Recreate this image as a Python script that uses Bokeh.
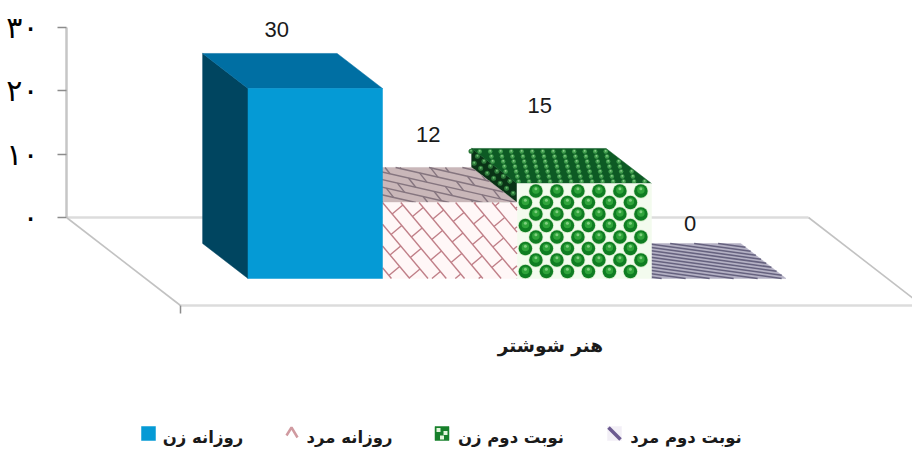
import math
from bokeh.plotting import figure
from bokeh.models import Range1d, FixedTicker
from bokeh.core.properties import value as V
from bokeh.embed import file_html
from bokeh.resources import INLINE

# ---------- data ----------
CATEGORY = "هنر شوشتر"
SERIES = ["روزانه زن", "روزانه مرد", "نوبت دوم زن", "نوبت دوم مرد"]
VALUES = [30, 12, 15, 0]
TICKS = [0, 10, 20, 30]
TICK_LABELS = ["۰", "۱۰", "۲۰", "۳۰"]

# ---------- layout (pixels in the page, converted through the scales) ----------
W, H = 912, 451
FRAME_L, FRAME_T = 66, 0
FRAME_R, FRAME_B = 912, 451
SLOT = 134.5          # width of a bar in px
PXV = 190 / 30        # px per value unit
ZERO_Y = 217          # value 0 on back wall
DEPTH_X, DEPTH_Y = 114, 88     # whole floor depth
BAR_F0, BAR_F1 = 0.295, 0.693  # bar depth span as a fraction of the floor
WALL_W = 742
BAR_LEFT = 102.5      # from wall, px, in back-plane coordinates


def dx(px):
    return (px - FRAME_L) / SLOT


def dy(py):
    return (ZERO_Y - py) / PXV


p = figure(width=W, height=H, output_backend="svg", toolbar_location=None,
           x_range=Range1d(dx(FRAME_L), dx(FRAME_R)), y_range=Range1d(dy(FRAME_B), dy(FRAME_T)),
           min_border_left=FRAME_L, min_border_right=0, min_border_top=0, min_border_bottom=0,
           x_axis_location=None, outline_line_color=None, background_fill_color="white")
p.grid.visible = False
ax = p.yaxis[0]
ax.bounds = (0, 30)
ax.ticker = FixedTicker(ticks=TICKS)
ax.major_label_overrides = {t: l for t, l in zip(TICKS, TICK_LABELS)}
ax.major_label_text_font = "DejaVu Sans"
ax.major_label_text_font_size = "30px"
ax.major_label_text_color = "black"
ax.major_label_standoff = 19
ax.major_tick_out = 9
ax.major_tick_in = 0
ax.minor_tick_line_color = None
ax.major_tick_line_color = "#8c8c8c"
ax.major_tick_line_width = 1.5
ax.axis_line_color = "#c6c6c6"
ax.axis_line_width = 2.5

# ---------- floor ----------
back_l = (dx(FRAME_L), 0.0)
back_r = (dx(FRAME_L + WALL_W), 0.0)
ddx, ddy = DEPTH_X / SLOT, -DEPTH_Y / PXV
p.line([back_l[0], back_r[0]], [0, 0], line_color="#dcdcdc", line_width=2.5)
p.line([back_l[0], back_l[0] + ddx], [0, ddy], line_color="#c2c2c2", line_width=1.6)
p.line([back_r[0], back_r[0] + ddx], [0, ddy], line_color="#c2c2c2", line_width=1.6)
p.line([back_l[0] + ddx, dx(FRAME_R)], [ddy, ddy], line_color="#dcdcdc", line_width=2.5)
p.line([back_l[0] + ddx] * 2, [ddy, ddy - 8 / PXV], line_color="#8c8c8c", line_width=1.5)


# ---------- faces ----------
def bar_geometry(i, val):
    x = BAR_LEFT / SLOT + i
    back = (x + BAR_F0 * ddx, BAR_F0 * ddy)
    front = (x + BAR_F1 * ddx, BAR_F1 * ddy)
    return back, front, val


def poly(pts, color, line=None):
    p.patch([q[0] for q in pts], [q[1] for q in pts], fill_color=color,
            line_color=line or color, line_width=0.5)


def clip(a, b, w, h):
    t0, t1 = 0.0, 1.0
    d = (b[0] - a[0], b[1] - a[1])
    for pp, q in ((-d[0], a[0]), (d[0], w - a[0]), (-d[1], a[1]), (d[1], h - a[1])):
        if pp == 0:
            if q < 0:
                return None
            continue
        r = q / pp
        if pp < 0:
            t0 = max(t0, r)
        else:
            t1 = min(t1, r)
    if t0 > t1:
        return None
    return ((a[0] + t0 * d[0], a[1] + t0 * d[1]), (a[0] + t1 * d[0], a[1] + t1 * d[1]))


def brick_lines(w, h, angle, T, S, vscale=1.0):
    """segments of a rotated brick weave, clipped to w x h (px on the face)"""
    ca, sa = math.cos(angle), math.sin(angle)
    R = int((w + h / vscale) / min(T, S)) + 4

    def rot(s, t):
        return (s * ca - t * sa, (s * sa + t * ca) * vscale)

    segs = []
    for k in range(-R, R):
        c = clip(rot(-3 * R * S, k * T), rot(3 * R * S, k * T), w, h)
        if c:
            segs.append(c)
        for m in range(-R, R):
            s = m * S + (S / 2 if k % 2 else 0)
            c = clip(rot(s, k * T), rot(s, (k + 1) * T), w, h)
            if c:
                segs.append(c)
    return segs


def draw_segs(segs, w, h, org, eu, ev, color, width):
    xs, ys = [], []
    for a, b in segs:
        xs.append([org[0] + a[0] / w * eu[0] + a[1] / h * ev[0], org[0] + b[0] / w * eu[0] + b[1] / h * ev[0]])
        ys.append([org[1] + a[0] / w * eu[1] + a[1] / h * ev[1], org[1] + b[0] / w * eu[1] + b[1] / h * ev[1]])
    p.multi_line(xs, ys, line_color=color, line_width=width)


def balls(w, h, cw, rh, org, eu, ev, sizes_colors, margin=0.0):
    xs, ys = [], []
    r = 0
    v = rh * 0.6
    while v < h:
        u = cw * 0.4 + (cw / 2 if r % 2 else 0) - cw
        while u < w - margin:
            if u >= -1:
                xs.append(org[0] + u / w * eu[0] + v / h * ev[0])
                ys.append(org[1] + u / w * eu[1] + v / h * ev[1])
            u += cw
        v += rh
        r += 1
    for sz, col, shift in sizes_colors:
        p.scatter(xs, [y + shift / PXV for y in ys], size=sz, fill_color=col, line_color=None)


def faces(i, val):
    back, front, _ = bar_geometry(i, val)
    return back, front, (1.0, 0.0), (front[0] - back[0], front[1] - back[1])


# bar 3 (purple) – only a floor sheet because its value is 0
back, front, eu, ed = faces(3, VALUES[3])
tl = (back[0], back[1] + VALUES[3])
poly([tl, (tl[0] + 1, tl[1]), (tl[0] + 1 + ed[0], tl[1] + ed[1]), (tl[0] + ed[0], tl[1] + ed[1])], "#b4b1c4")
wd, hd = SLOT, -ed[1] * PXV
draw_segs(
    [s for k in range(-16, 40)
     for s in [clip((-20, k * 4.0 - 10), (160, k * 4.0 + 20), wd, hd)] if s],
    wd, hd, tl, eu, ed, "#66627f", 1.6)

# bar 2 (green)
back, front, eu, ed = faces(2, VALUES[2])
top_b = (back[0], back[1] + VALUES[2])
top_f = (front[0], front[1] + VALUES[2])
fb = front
poly([back, front, top_f, top_b], "#0a3316")
balls(-ed[1] * PXV * 1.3, VALUES[2] * PXV, 6.5, 9.5, back, ed, (0, VALUES[2]),
      [(5, "#2d7a3a", 0.5), (2, "#6fbf72", 1.0)], margin=3)
poly([top_b, (top_b[0] + 1, top_b[1]), (top_f[0] + 1, top_f[1]), top_f], "#0d5a24")
balls(SLOT, -ed[1] * PXV, 10.5, 5, top_b, eu, ed,
      [(4.5, "#3f9c4c", 0), (1.8, "#8fd08f", 0.6)], margin=4)
poly([fb, (fb[0] + 1, fb[1]), (fb[0] + 1, fb[1] + VALUES[2]), (fb[0], fb[1] + VALUES[2])], "#f3fbee")
balls(SLOT, VALUES[2] * PXV, 21, 11.5, fb, eu, (0, VALUES[2]),
      [(15, "#d3ecc9", 0), (13.5, "#0f7d22", 0), (7.5, "#2fa43a", 1.2), (3, "#7fd07f", 2.4)], margin=6)

# bar 1 (pink)
back, front, eu, ed = faces(1, VALUES[1])
top_b = (back[0], back[1] + VALUES[1])
top_f = (front[0], front[1] + VALUES[1])
poly([top_b, (top_b[0] + 1, top_b[1]), (top_f[0] + 1, top_f[1]), top_f], "#c9b7b9")
hd = -ed[1] * PXV
draw_segs(brick_lines(SLOT, hd, math.radians(-22), 12.5, 28, 0.8), SLOT, hd, top_f, eu, (-ed[0], -ed[1]), "#85757f", 1.4)
ffh = VALUES[1] * PXV
poly([front, (front[0] + 1, front[1]), (top_f[0] + 1, top_f[1]), top_f], "#fff7f7")
draw_segs(brick_lines(SLOT, ffh, math.radians(50), 14, 30), SLOT, ffh, top_f, eu, (0, -VALUES[1]), "#c07f88", 1.4)

# bar 0 (blue)
back, front, eu, ed = faces(0, VALUES[0])
top_b = (back[0], back[1] + VALUES[0])
top_f = (front[0], front[1] + VALUES[0])
poly([back, front, top_f, top_b], "#004560")
poly([top_b, (top_b[0] + 1, top_b[1]), (top_f[0] + 1, top_f[1]), top_f], "#006fa3")
poly([front, (front[0] + 1, front[1]), (top_f[0] + 1, top_f[1]), top_f], "#059ad5")

# ---------- value labels ----------
LABEL_NUDGE = [(74, -24), (91, -33), (68, -43), (84, -20)]
lx, ly = [], []
for i, v in enumerate(VALUES):
    b, _, _ = bar_geometry(i, v)
    lx.append(b[0] + LABEL_NUDGE[i][0] / SLOT)
    ly.append(b[1] + v - LABEL_NUDGE[i][1] / PXV)
p.text(lx, ly, text=[str(v) for v in VALUES], text_font=V("Liberation Sans"),
       text_font_size="22px", text_color="#1a1a1a", text_align="center", text_baseline="middle")

# ---------- category label ----------
p.text([dx(550)], [dy(345)], text=[CATEGORY], text_font=V("DejaVu Sans"), text_font_style="bold",
       text_font_size="18.5px", text_color="#1a1a1a", text_align="center", text_baseline="middle")

# ---------- legend ----------
SW_X = [148, 292, 441.5, 614]
TXT_X = [202.5, 349, 510.5, 685.5]
LEG_Y = 433
SW = 14
p.text([dx(x) for x in TXT_X], [dy(LEG_Y + 4)] * 4, text=SERIES, text_font=V("DejaVu Sans"),
       text_font_style="bold", text_font_size="16.5px", text_color="#1a1a1a",
       text_align="center", text_baseline="middle")


def sw_rect(i, color):
    c = SW_X[i]
    poly([(dx(c - SW / 2), dy(LEG_Y - SW / 2)), (dx(c + SW / 2), dy(LEG_Y - SW / 2)),
          (dx(c + SW / 2), dy(LEG_Y + SW / 2)), (dx(c - SW / 2), dy(LEG_Y + SW / 2))], color)


sw_rect(0, "#059ad5")
c = SW_X[1]
p.line([dx(c - 6), dx(c - 1), dx(c + 5)], [dy(LEG_Y + 2), dy(LEG_Y - 6), dy(LEG_Y + 4)],
       line_color="#d09aa0", line_width=2.5)
sw_rect(2, "#17802b")
c = SW_X[2]
p.scatter([dx(c - 3.5), dx(c + 3.5), dx(c)], [dy(LEG_Y - 3.5), dy(LEG_Y - 0.5), dy(LEG_Y + 4)],
          size=4, marker="square", fill_color="#e4f5dc", line_color=None)
sw_rect(3, "#f2eff6")
c = SW_X[3]
p.line([dx(c - 6), dx(c + 6)], [dy(LEG_Y - 6), dy(LEG_Y + 6)], line_color="#6b5a90", line_width=3.5)

open("out.html", "w").write(file_html(p, INLINE))
